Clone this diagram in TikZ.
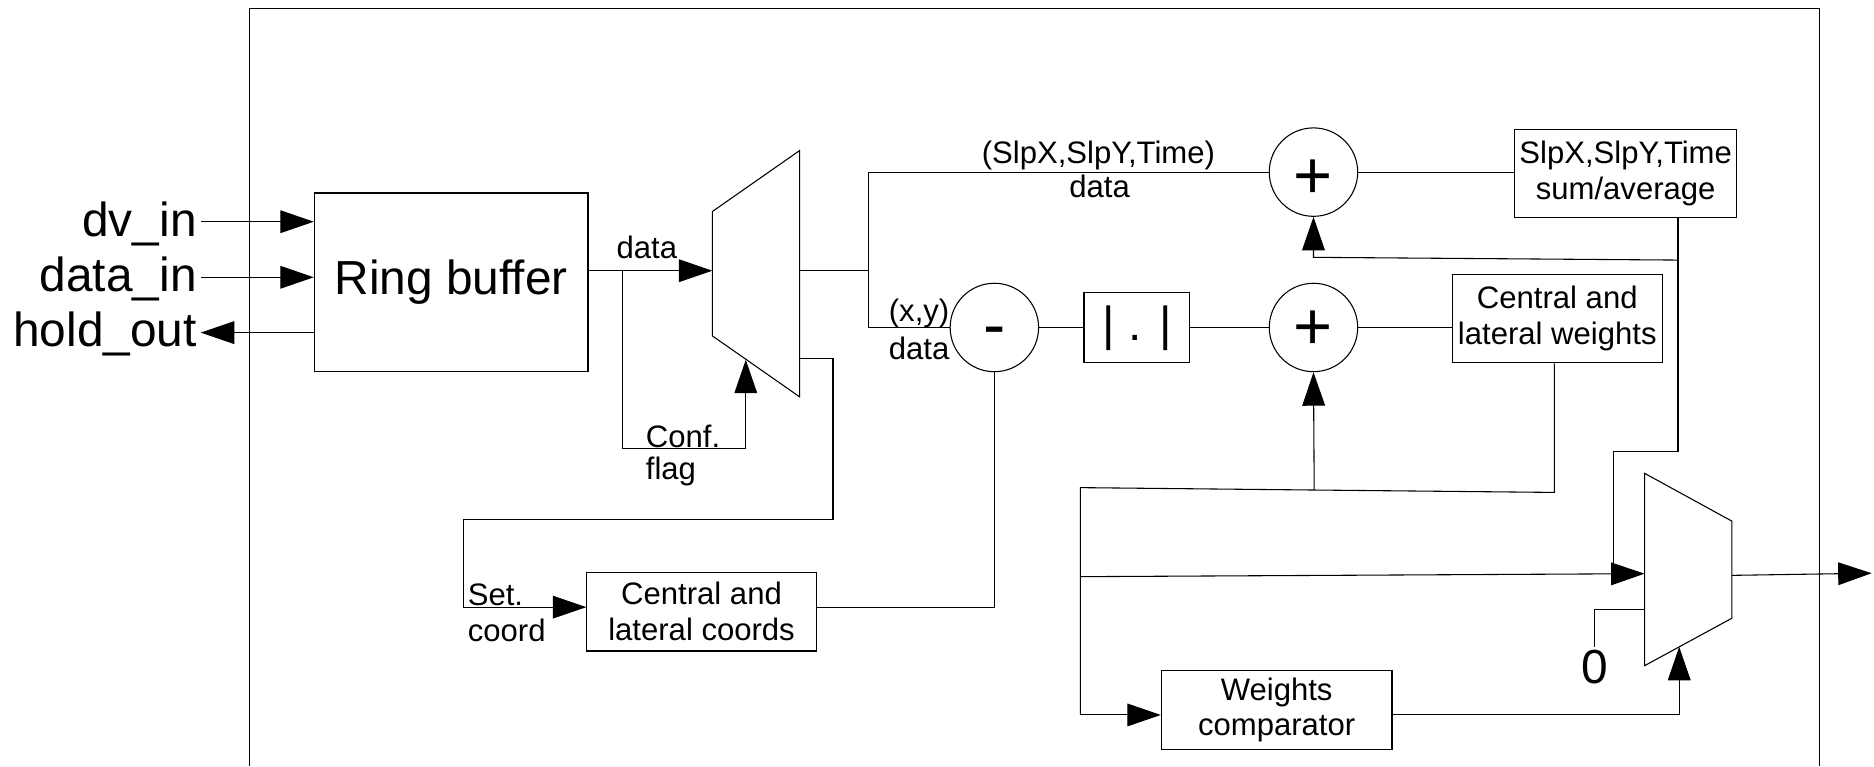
\documentclass[tikz,border=0pt]{standalone}
\usepackage{fontspec}
\setmainfont{Liberation Sans}
\usetikzlibrary{arrows.meta}
\begin{document}
\begin{tikzpicture}[x=1pt,y=-1pt,
  line width=0.9pt,
  arr/.style={-{Triangle[length=28pt,width=19pt]}},
  bigtxt/.style={font=\fontsize{40}{46}\selectfont},
  smalltxt/.style={font=\fontsize{26}{30}\selectfont},
  symtxt/.style={font=\fontsize{56}{60}\selectfont, inner sep=0pt},
  blk/.style={draw, line width=0.9pt, inner sep=0pt, align=center, smalltxt},
  sumnode/.style={draw, circle, minimum size=74pt, inner sep=0pt},
  lbl/.style={inner sep=0pt}
]
\useasboundingbox (0,0) rectangle (1568,641);

% frame
\draw (209,641) -- (209,7) -- (1522,7) -- (1522,641);

% ring buffer and ports
\node[draw, minimum width=229pt, minimum height=149pt, inner sep=0pt, bigtxt] (rb) at (377.5,236) {Ring buffer};
\node[bigtxt, lbl, anchor=base east] (dvin) at (165,198) {dv\_in};
\node[bigtxt, lbl, anchor=base east] (datain) at (165,244) {data\_in};
\node[bigtxt, lbl, anchor=base east] (holdout) at (165,290) {hold\_out};
\coordinate (dvs) at (168,185.5);
\coordinate (dis) at (168,232);
\coordinate (hos) at (168,278.3);
\draw[arr] (dvs) -- (dvs -| rb.west);
\draw[arr] (dis) -- (dis -| rb.west);
\draw[arr] (hos -| rb.west) -- (hos);

% mux 1
\coordinate (m1a) at (596,177);
\coordinate (m1b) at (669,126);
\coordinate (m1c) at (669,332);
\coordinate (m1d) at (596,281);
\draw (m1a) -- (m1b) -- (m1c) -- (m1d) -- cycle;
\coordinate (m1in) at (596,226.5);
\coordinate (m1out) at (669,226.5);
\coordinate (m1ctl) at (624,301);
\coordinate (m1out2) at (669,300);

\coordinate (j1) at (521,226.5);
\draw (rb.east |- j1) -- (j1);
\draw[arr] (j1) -- (m1in);
\node[smalltxt, lbl, anchor=base west] (datalbl) at (515.5,216) {data};
\draw[arr] (j1) -- (521,375) -- (624,375) -- (m1ctl);
\node[smalltxt, lbl, anchor=base west] (conf) at (540,374) {Conf.};
\node[smalltxt, lbl, anchor=base west] (flag) at (540,401) {flag};

% coords box
\node[blk, minimum width=192pt, minimum height=66pt] (coords) at (587,511.7) {Central and\\lateral coords};
\coordinate (cin) at (388,508);
\draw[arr] (m1out2) -- (697,300) -- (697,434.5) -- (388,434.5) -- (cin) -- (cin -| coords.west);
\node[smalltxt, lbl, anchor=base west] (set) at (391,507) {Set.};
\node[smalltxt, lbl, anchor=base west] (coord) at (391,537) {coord};

% upper path
\coordinate (j2) at (727,226.5);
\node[sumnode] (plus1) at (1099,144) {};
\node[symtxt, anchor=base] (plus1s) at (1099,166) {+};
\node[sumnode] (minus) at (832,274) {};
\node[symtxt, anchor=base] (minuss) at (832,291) {-};
\draw (m1out) -- (j2);
\draw (j2) -- (j2 |- plus1.west) -- (plus1.west);
\draw (j2) -- (j2 |- minus.west) -- (minus.west);
\node[smalltxt, lbl, anchor=base] (slpl) at (919,137) {(SlpX,SlpY,Time)};
\node[smalltxt, lbl, anchor=base] (slpd) at (920,165) {data};
\node[smalltxt, lbl, anchor=base] (xyl) at (769,269) {(x,y)};
\node[smalltxt, lbl, anchor=base] (xyd) at (769,301) {data};

\node[blk, minimum width=186pt, minimum height=73.6pt] (slp) at (1360.2,144.8) {SlpX,SlpY,Time\\sum/average};
\draw (plus1.east) -- (plus1.east -| slp.west);

% abs and plus2
\node[draw, minimum width=88.6pt, minimum height=58.5pt, inner sep=0pt, bigtxt] (abs) at (951.3,274.25) {| . |};
\node[sumnode] (plus2) at (1099,274) {};
\node[symtxt, anchor=base] (plus2s) at (1099,292.3) {+};
\node[blk, minimum width=176pt, minimum height=74pt] (wts) at (1303,266.5) {Central and\\lateral weights};
\draw (minus.east) -- (minus.east -| abs.west);
\draw (abs.east |- plus2.west) -- (plus2.west);
\draw (plus2.east) -- (plus2.east -| wts.west);

% coords to minus
\coordinate (cm) at (832,508);
\draw (coords.east |- cm) -- (cm) -- (minus.south);

% feedback from sum/average
\coordinate (fbA) at (1404,217.6);
\coordinate (fbB) at (1099,215.3);
\coordinate (fbC) at (1404,378);
\coordinate (fbD) at (1350,378);
\coordinate (fbE) at (1350,480);
\draw (slp.south -| fbA) -- (fbC) -- (fbD) -- (fbE);
\draw[arr] (fbA) -- (fbB) -- (plus1.south);

% mux 2
\coordinate (m2a) at (1376,396);
\coordinate (m2b) at (1449,436);
\coordinate (m2c) at (1449,517.3);
\coordinate (m2d) at (1376,557);
\draw (m2a) -- (m2b) -- (m2c) -- (m2d) -- cycle;
\coordinate (m2in) at (1376,480);
\coordinate (m2zero) at (1376,509.8);
\coordinate (m2ctl) at (1405,541.2);
\coordinate (m2out) at (1449,481.4);
\coordinate (outend) at (1566,479.6);
\draw[arr] (m2out) -- (outend);

% weights network
\coordinate (wA) at (1300.6,412);
\coordinate (wB) at (1099.6,410);
\coordinate (wC) at (904,408);
\coordinate (wD) at (904,482.5);
\coordinate (wE) at (904,598.2);
\node[blk, minimum width=193pt, minimum height=66pt] (cmp) at (1068.2,594) {Weights\\comparator};
\draw (wts.south -| wA) -- (wA) -- (wB) -- (wC) -- (wE);
\draw[arr] (wB) -- (plus2.south);
\draw[arr] (wD) -- (m2in);
\draw[arr] (wE) -- (wE -| cmp.west);
\draw[arr] (cmp.east |- wE) -- (m2ctl |- wE) -- (m2ctl);

% zero input
\node[bigtxt, inner sep=2pt, anchor=base] (zero) at (1334.5,571.5) {0};
\draw (m2zero) -- (m2zero -| zero.north) -- (zero.north);
\end{tikzpicture}
\end{document}
